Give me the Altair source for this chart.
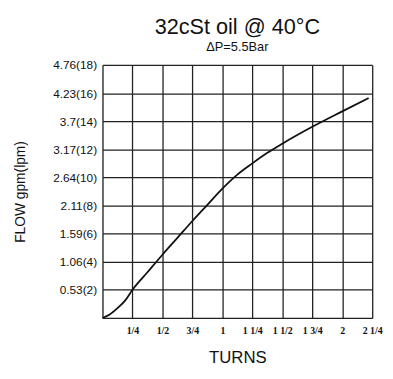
import altair as alt
import pandas as pd

# Curve (turns vs flow in lpm)
turns = [0.0, 0.06, 0.125, 0.19, 0.25, 0.375, 0.5, 0.625, 0.75, 0.875, 1.0, 1.125, 1.25, 1.375, 1.5, 1.75, 2.0, 2.22]
flow_lpm = [0.0, 0.25, 0.7, 1.25, 2.0, 3.25, 4.5, 5.7, 6.9, 8.05, 9.2, 10.2, 11.0, 11.75, 12.4, 13.6, 14.7, 15.65]

y_ticks = [2, 4, 6, 8, 10, 12, 14, 16, 18]
y_labels = ["0.53(2)", "1.06(4)", "1.59(6)", "2.11(8)", "2.64(10)", "3.17(12)", "3.7(14)", "4.23(16)", "4.76(18)"]
x_ticks = [0.25, 0.5, 0.75, 1.0, 1.25, 1.5, 1.75, 2.0, 2.25]
x_labels = ["1/4", "1/2", "3/4", "1", "1 1/4", "1 1/2", "1 3/4", "2", "2 1/4"]

df = pd.DataFrame({"turns": turns, "flow": flow_lpm})

def expr(ticks, labels):
    parts = " : ".join(f"datum.value == {t} ? '{l}'" for t, l in zip(ticks, labels))
    return parts + " : ''"

x_enc = alt.X("turns:Q", scale=alt.Scale(domain=[0, 2.25], nice=False, zero=True),
              axis=alt.Axis(values=[0] + x_ticks, labelExpr=expr(x_ticks, x_labels),
                            title="TURNS", titleFontSize=17, titleFontWeight="normal",
                            titlePadding=14, labelFontSize=10, labelPadding=8,
                            ticks=False, grid=True, gridColor="#222", gridWidth=1.3,
                            gridOpacity=1, domain=False, labelColor="#111",
                            titleColor="#111", labelFont="Liberation Sans Narrow",
                            labelFontWeight="bold",
                            titleFont="Liberation Sans", labelFlush=False))
y_enc = alt.Y("flow:Q", scale=alt.Scale(domain=[0, 18], nice=False),
              axis=alt.Axis(values=[0] + y_ticks, labelExpr=expr(y_ticks, y_labels),
                            title="FLOW gpm(lpm)", titleFontSize=14, titleFontWeight="normal",
                            titlePadding=26, labelFontSize=12, labelPadding=6,
                            ticks=False, grid=True, gridColor="#222", gridWidth=1.3,
                            gridOpacity=1, domain=False, labelColor="#111",
                            titleColor="#111", labelFont="Liberation Sans",
                            titleFont="Liberation Sans", labelFlush=False))

line = alt.Chart(df).mark_line(color="#111", strokeWidth=1.8, interpolate="monotone").encode(
    x=x_enc, y=y_enc
)

chart = line.properties(
    width=274, height=257,
    title=alt.TitleParams(text="32cSt oil @ 40°C", subtitle="ΔP=5.5Bar",
                          fontSize=22, fontWeight="normal", font="Liberation Sans",
                          subtitleFontSize=13, subtitleFont="Liberation Sans",
                          color="#111", subtitleColor="#111", anchor="middle",
                          offset=4, subtitlePadding=2),
    autosize=alt.AutoSizeParams(type="none"),
    padding={"left": 96, "top": 55, "right": 13, "bottom": 51},
).configure_view(stroke="#111", strokeWidth=1.5).configure(background="white")

chart.save("out.html", embed_options={"renderer": "svg", "actions": False})
